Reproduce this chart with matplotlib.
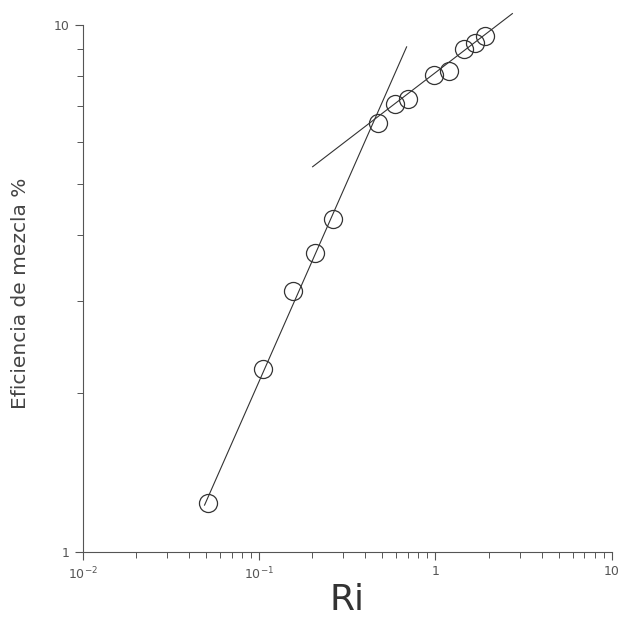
import matplotlib
matplotlib.use('Agg')
import matplotlib.pyplot as plt
from matplotlib.ticker import LogLocator, NullFormatter, FixedLocator, FixedFormatter

# measured points (Ri, mixing efficiency %)
ri = [0.051, 0.105, 0.155, 0.206, 0.261, 0.475, 0.593, 0.703, 0.975, 1.186, 1.442, 1.686, 1.92]
eff = [1.24, 2.22, 3.13, 3.69, 4.28, 6.52, 7.08, 7.24, 8.04, 8.18, 9.00, 9.25, 9.53]

# fitted lines (end points)
fit_low_x = [0.049, 0.686]
fit_low_y = [1.228, 9.08]
fit_high_x = [0.201, 2.73]
fit_high_y = [5.38, 10.5]

xticks = [0.01, 0.1, 1, 10]
xticklabels = ['$10^{-2}$', '$10^{-1}$', '1', '10']
yticks = [1, 10]
yticklabels = ['1', '10']


def plot():
    fig = plt.figure(figsize=(6.23, 6.19), dpi=100)
    ax = fig.add_axes([0.133, 0.108, 0.849, 0.852])
    ax.set_xscale('log')
    ax.set_yscale('log')

    ax.plot(fit_low_x, fit_low_y, color='#333333', lw=0.8, clip_on=False)
    ax.plot(fit_high_x, fit_high_y, color='#333333', lw=0.8, clip_on=False)
    ax.plot(ri, eff, 'o', mfc='none', mec='#333333', mew=0.9, ms=13, clip_on=False)

    ax.set_xlim(0.01, 10)
    ax.set_ylim(1, 10)

    for s in ['top', 'right']:
        ax.spines[s].set_visible(False)
    for s in ['left', 'bottom']:
        ax.spines[s].set_color('#555555')
        ax.spines[s].set_linewidth(0.8)

    ax.xaxis.set_major_locator(FixedLocator(xticks))
    ax.xaxis.set_major_formatter(FixedFormatter(xticklabels))
    ax.xaxis.set_minor_locator(LogLocator(base=10, subs=range(2, 10)))
    ax.xaxis.set_minor_formatter(NullFormatter())
    ax.yaxis.set_major_locator(FixedLocator(yticks))
    ax.yaxis.set_major_formatter(FixedFormatter(yticklabels))
    ax.yaxis.set_minor_locator(LogLocator(base=10, subs=range(2, 10)))
    ax.yaxis.set_minor_formatter(NullFormatter())

    ax.tick_params(which='major', length=6, width=0.8, color='#555555',
                   labelsize=9, labelcolor='#555555', direction='out')
    ax.tick_params(which='minor', length=4, width=0.7, color='#555555', direction='out')

    ax.set_xlabel('Ri', fontsize=26, color='#333333')
    ax.xaxis.set_label_coords(0.5, -0.058)
    ax.set_ylabel('Eficiencia de mezcla %', fontsize=14.5, color='#444444')
    ax.yaxis.set_label_coords(-0.1, 0.49)

    fig.savefig('out.png', dpi=100)


if __name__ == '__main__':
    plot()
